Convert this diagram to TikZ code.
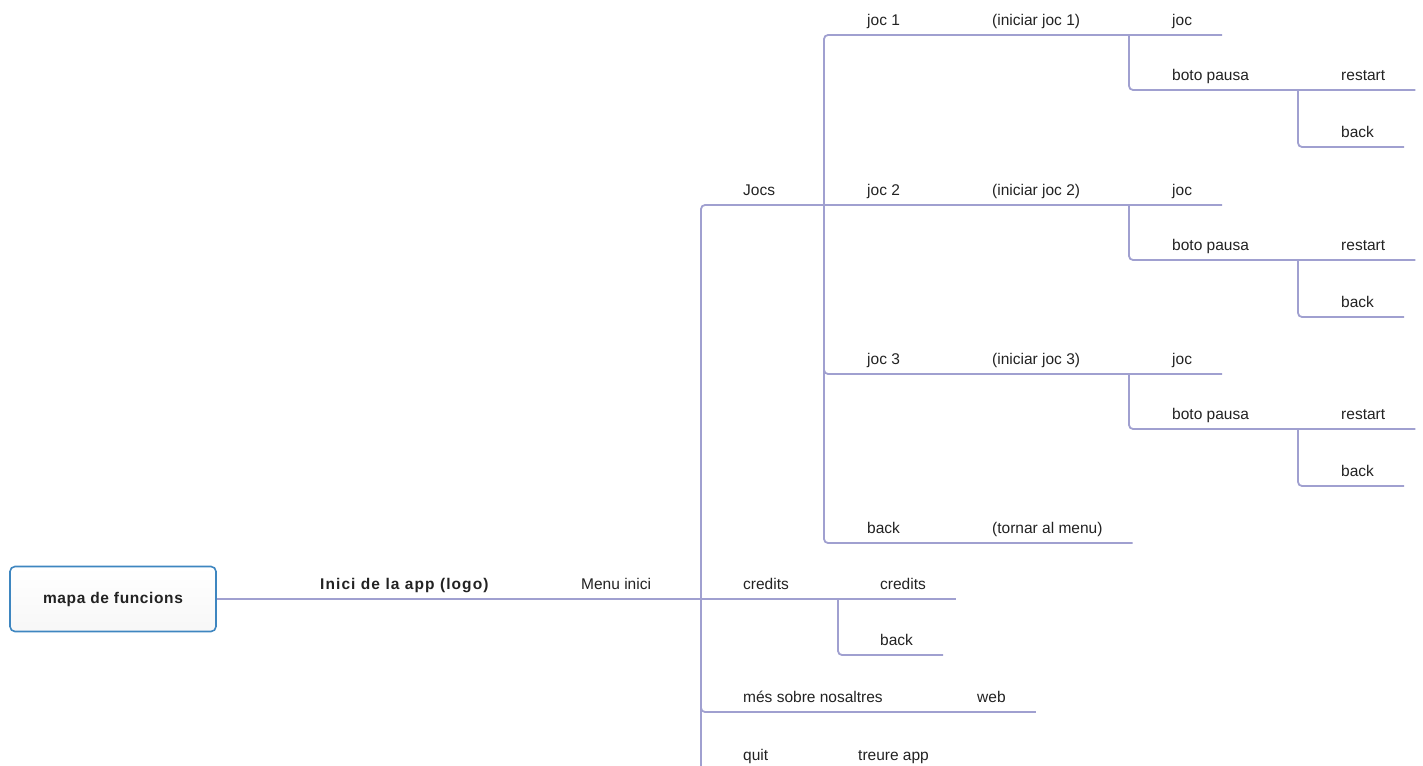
\documentclass[tikz,border=0pt]{standalone}
\usepackage{fontspec}
\setmainfont{Liberation Sans}
\definecolor{branchcol}{RGB}{160,160,208}
\definecolor{rootcol}{RGB}{62,134,192}
\definecolor{txtcol}{RGB}{34,34,34}
\tikzset{
  branch/.style={draw=branchcol, line width=1.8pt, rounded corners=4pt},
  topic/.style={inner sep=0pt, text depth=9pt, anchor=south west, text=txtcol, font=\fontsize{15.5}{18}\selectfont},
  rootbox/.style={draw=rootcol, line width=1.6pt, rounded corners=5pt, top color=white, bottom color=black!3,
    minimum width=206pt, minimum height=65pt, text=txtcol, font=\fontsize{15.5}{18}\selectfont\bfseries\addfontfeatures{LetterSpace=4}}
}

\begin{document}
\begin{tikzpicture}[x=1pt, y=-1pt]
    \useasboundingbox (0,0) rectangle (1423,765);
    \clip (0,0) rectangle (1423,765);
    \node[rootbox] (root) at (113,599) {mapa de funcions};
    \node[topic, font=\fontsize{15.5}{18}\selectfont\bfseries\addfontfeatures{LetterSpace=7}] (inici) at (320,599) {Inici de la app (logo)};
    \node[topic] (menu) at (581,599) {Menu inici};
    \node[topic] (jocs) at (743,205) {Jocs};
    \node[topic] (credits) at (743,599) {credits};
    \node[topic] (mes) at (743,712) {més sobre nosaltres};
    \node[topic] (quit) at (743,770) {quit};
    \node[topic] (credits2) at (880,599) {credits};
    \node[topic] (backcr) at (880,655) {back};
    \node[topic] (web) at (977,712) {web};
    \node[topic] (treure) at (858,770) {treure app};
    \foreach \i/\y in {1/35,2/205,3/374}{
        \node[topic] (joc\i) at (867,\y) {joc \i};
        \node[topic] (ini\i) at (992,\y) {(iniciar joc \i)};
        \node[topic] (leaf\i) at (1172,\y) {joc};
        \node[topic] (pausa\i) at (1172,\y+55) {boto pausa};
        \node[topic] (rest\i) at (1341,\y+55) {restart};
        \node[topic] (back\i) at (1341,\y+112) {back};
    }
    \node[topic] (backj) at (867,543) {back};
    \node[topic] (tornar) at (992,543) {(tornar al menu)};
    \coordinate (m0) at ([xshift=-42pt]credits.south west);
    \coordinate (j0) at ([xshift=-43pt]joc2.south west);
    \coordinate (c0) at ([xshift=-42pt]credits2.south west);
    \draw[branch] (root.east) -- ([xshift=30pt]credits2.south east);
    \foreach \n in {leaf2,web,treure} \draw[branch] (m0) |- ([xshift=30pt]\n.south east);
    \foreach \n in {leaf1,leaf3,tornar} \draw[branch] (j0) |- ([xshift=30pt]\n.south east);
    \draw[branch] (c0) |- ([xshift=30pt]backcr.south east);
    \foreach \i in {1,2,3}{
        \draw[branch] ([xshift=-43pt]leaf\i.south west) |- ([xshift=30pt]rest\i.south east);
        \draw[branch] ([xshift=-43pt]rest\i.south west) |- ([xshift=30pt]back\i.south east);
    }
\end{tikzpicture}
\end{document}
